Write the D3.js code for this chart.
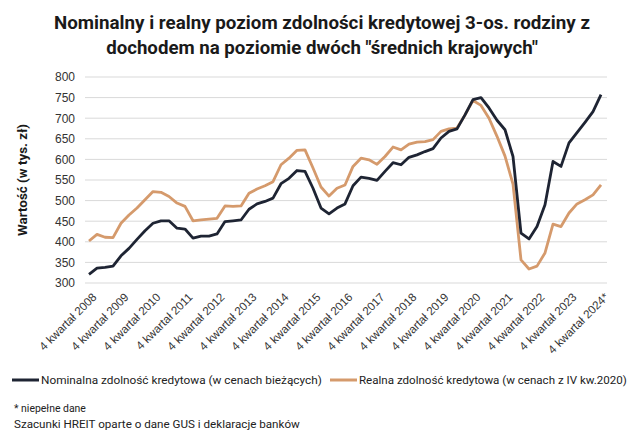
<!DOCTYPE html>
<html><head><meta charset="utf-8">
<script src="https://cdn.jsdelivr.net/npm/d3@7"></script>
<style>
html,body{margin:0;padding:0;background:#fff;}
svg{display:block;font-family:"Liberation Sans",Arial,sans-serif;}
</style></head>
<body><svg id="c" width="640" height="434"></svg>
<script>
const years = [2008,2009,2010,2011,2012,2013,2014,2015,2016,2017,2018,2019,2020,2021,2022,2023,2024];
const tickLabels = ["4 kwartał 2008","4 kwartał 2009","4 kwartał 2010","4 kwartał 2011","4 kwartał 2012","4 kwartał 2013","4 kwartał 2014","4 kwartał 2015","4 kwartał 2016","4 kwartał 2017","4 kwartał 2018","4 kwartał 2019","4 kwartał 2020","4 kwartał 2021","4 kwartał 2022","4 kwartał 2023","4 kwartał 2024*"];
const nominal = [321,336,338,341,366,384,406,427,445,451,451,433,431,409,414,414,419,449,451,453,479,492,498,506,541,554,573,571,530,482,468,482,492,536,557,554,549,571,592,587,605,611,619,626,652,668,674,708,745,750,725,695,672,607,421,407,437,490,595,583,640,665,690,716,757];
const real = [402,418,411,410,445,465,482,502,522,520,510,494,486,451,453,455,457,487,486,487,518,528,536,546,587,603,622,623,579,533,511,530,538,583,603,599,588,607,630,623,637,642,643,648,668,674,676,708,743,731,700,656,608,540,356,334,341,373,443,437,470,492,502,514,538];
const yTicks = [300,350,400,450,500,550,600,650,700,750,800];
const seriesNames = ["Nominalna zdolność kredytowa (w cenach bieżących)","Realna zdolność kredytowa (w cenach z IV kw.2020)"];
const titleLines = ["Nominalny i realny poziom zdolności kredytowej 3-os. rodziny z","dochodem na poziomie dwóch \"średnich krajowych\""];
const yTitle = "Wartość (w tys. zł)";
const notes = ["* niepełne dane","Szacunki HREIT oparte o dane GUS i deklaracje banków"];

// categories: Q4 2008 ... Q4 2024
const categories = [];
years.forEach(y => { [1,2,3,4].forEach(q => { if (y===2008 && q<4) return; categories.push(q+"Q"+y); }); });
const cats = categories.slice(0, nominal.length);

const svg = d3.select("#c");
const colN = "#1e2433", colR = "#d59a6c";
const x = d3.scalePoint().domain(cats).range([85,605]).padding(0.5);
const y = d3.scaleLinear().domain([300,800]).range([283,77]);

function fit(sel, target){ const n=sel.node(); const fs=parseFloat(sel.attr("font-size")); const w=n.getComputedTextLength(); sel.attr("font-size", (fs*target/w).toFixed(2)); }

// title
const tl = [{t:titleLines[0],y:29,w:536},{t:titleLines[1],y:54,w:432}];
tl.forEach(d=>{ const t=svg.append("text").attr("x",322).attr("y",d.y).attr("text-anchor","middle").attr("font-weight","bold").attr("font-size",17).attr("fill","#1a1a1a").attr("font-family","Roboto, sans-serif").text(d.t); fit(t,d.w); });

// grid
svg.append("g").selectAll("line").data(yTicks).join("line")
  .attr("x1",85).attr("x2",607).attr("y1",d=>y(d)).attr("y2",d=>y(d))
  .attr("stroke","#d9d9d9").attr("stroke-width",1);

// y axis labels
const ya = svg.append("g").attr("transform","translate(75,0)")
  .call(d3.axisLeft(y).tickValues(yTicks).tickSize(0).tickPadding(0));
ya.select(".domain").remove();
ya.selectAll("text").attr("font-size",12).attr("fill","#333").attr("font-family","Liberation Sans, Arial, sans-serif");

// y title
const yt = svg.append("text").attr("transform","translate(27,180) rotate(-90)").attr("text-anchor","middle")
  .attr("font-weight","bold").attr("font-size",12).attr("fill","#1a1a1a").attr("font-family","Roboto, sans-serif").text(yTitle);
fit(yt,112);

// x labels
const tickCats = cats.filter((c,i)=>i%4===0);
const xa = svg.append("g").attr("transform","translate(0,290)")
  .call(d3.axisBottom(x).tickValues(tickCats).tickSize(0).tickPadding(0).tickFormat((d,i)=>tickLabels[i]));
xa.select(".domain").remove();
xa.selectAll("text").attr("font-size",11.6).attr("fill","#333").attr("text-anchor","end")
  .attr("font-family","Liberation Sans, Arial, sans-serif")
  .attr("transform","translate(5,5) rotate(-45)").attr("dy","0.35em").attr("y",0);

// lines
const line = d3.line().x((d,i)=>x(cats[i])).y(d=>y(d));
svg.append("path").datum(real).attr("d",line).attr("fill","none").attr("stroke",colR).attr("stroke-width",2.8).attr("stroke-linejoin","round");
svg.append("path").datum(nominal).attr("d",line).attr("fill","none").attr("stroke",colN).attr("stroke-width",2.8).attr("stroke-linejoin","round");

// legend
const lg = [{c:colN,x1:12,x2:39,tx:41,w:281,t:seriesNames[0]},{c:colR,x1:330,x2:357,tx:359,w:268,t:seriesNames[1]}];
lg.forEach(d=>{
  svg.append("line").attr("x1",d.x1).attr("x2",d.x2).attr("y1",380).attr("y2",380).attr("stroke",d.c).attr("stroke-width",3);
  const t=svg.append("text").attr("x",d.tx).attr("y",384).attr("font-size",12).attr("fill","#222").attr("font-family","Roboto, sans-serif").text(d.t);
  fit(t,d.w);
});

// notes
const n1 = svg.append("text").attr("x",14).attr("y",412).attr("font-size",11).attr("fill","#222").attr("font-family","Roboto, sans-serif").text(notes[0]); fit(n1,72);
const n2 = svg.append("text").attr("x",14).attr("y",428).attr("font-size",11).attr("fill","#222").attr("font-family","Roboto, sans-serif").text(notes[1]); fit(n2,286);
</script></body></html>
